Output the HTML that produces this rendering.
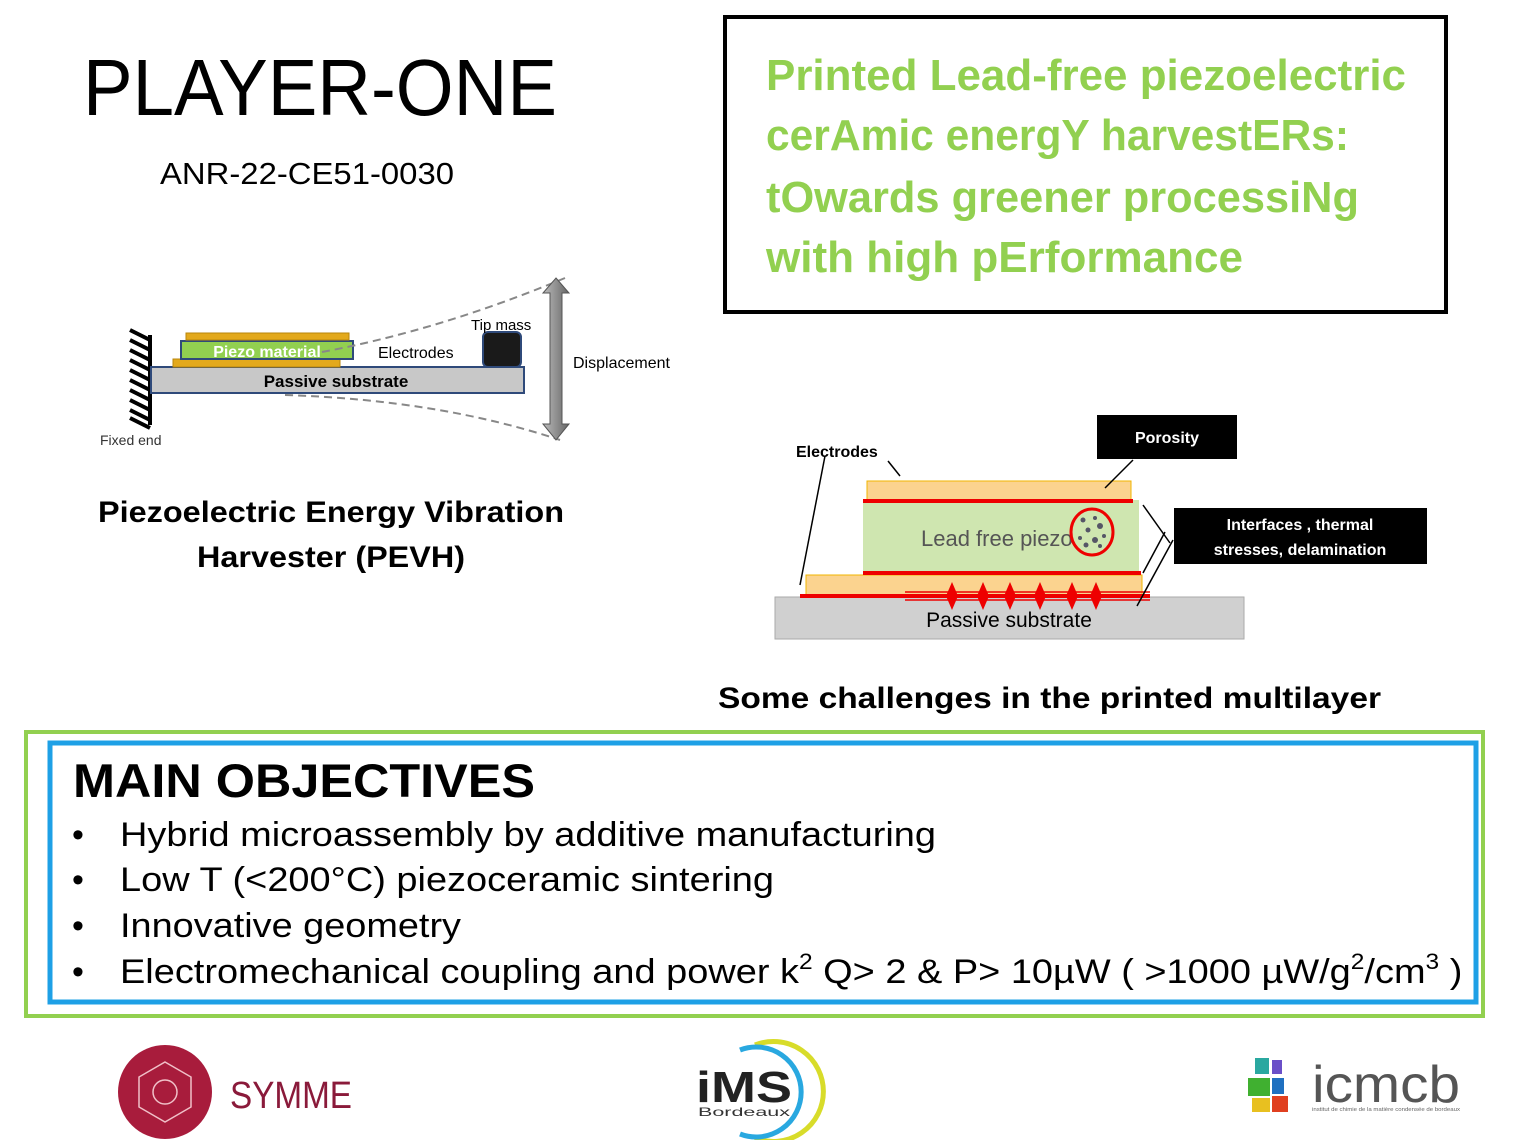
<!DOCTYPE html>
<html><head><meta charset="utf-8"><style>
html,body{margin:0;padding:0;background:#fff;}
svg{display:block;font-family:"Liberation Sans",sans-serif;}
</style></head><body>
<svg width="1520" height="1140" viewBox="0 0 1520 1140" xmlns="http://www.w3.org/2000/svg">
<text x="83" y="115" font-size="80" textLength="474" lengthAdjust="spacingAndGlyphs">PLAYER-ONE</text>
<text x="160" y="184" font-size="31" textLength="294" lengthAdjust="spacingAndGlyphs">ANR-22-CE51-0030</text>

<rect x="725" y="17" width="721" height="295" fill="none" stroke="#000" stroke-width="4"/>
<g font-size="44" font-weight="bold" fill="#92d050">
<text x="766" y="90" textLength="640" lengthAdjust="spacingAndGlyphs">Printed Lead-free piezoelectric</text>
<text x="766" y="150" textLength="583" lengthAdjust="spacingAndGlyphs">cerAmic energY harvestERs:</text>
<text x="766" y="212" textLength="593" lengthAdjust="spacingAndGlyphs">tOwards greener processiNg</text>
<text x="766" y="272" textLength="477" lengthAdjust="spacingAndGlyphs">with high pErformance</text>
</g>

<g stroke="#000" stroke-width="4">
<line x1="150" y1="335" x2="150" y2="425"/>
<line x1="150" y1="340" x2="130" y2="330"/><line x1="150" y1="350" x2="130" y2="340"/>
<line x1="150" y1="360" x2="130" y2="350"/><line x1="150" y1="370" x2="130" y2="360"/>
<line x1="150" y1="380" x2="130" y2="370"/><line x1="150" y1="390" x2="130" y2="380"/>
<line x1="150" y1="400" x2="130" y2="390"/><line x1="150" y1="410" x2="130" y2="400"/>
<line x1="150" y1="420" x2="130" y2="410"/><line x1="150" y1="428" x2="130" y2="418"/>
</g>
<text x="100" y="445" font-size="14" fill="#333">Fixed end</text>
<rect x="151" y="367" width="373" height="26" fill="#c8c8c8" stroke="#2f4a7a" stroke-width="2"/>
<text x="336" y="387" font-size="17" font-weight="bold" text-anchor="middle">Passive substrate</text>
<rect x="173" y="359" width="167" height="8" fill="#e3a91c" stroke="#b8860b" stroke-width="1"/>
<rect x="181" y="341" width="172" height="18" fill="#92d050" stroke="#2f4a7a" stroke-width="2"/>
<text x="267" y="357" font-size="16" font-weight="bold" fill="#fff" text-anchor="middle">Piezo material</text>
<rect x="186" y="333" width="163" height="7" fill="#e3a91c" stroke="#b8860b" stroke-width="1"/>
<text x="378" y="358" font-size="16">Electrodes</text>
<rect x="483" y="332" width="38" height="35" rx="5" fill="#1a1a1a" stroke="#2f4a7a" stroke-width="2"/>
<text x="471" y="330" font-size="15">Tip mass</text>
<path d="M322 352 Q440 330 565 278" fill="none" stroke="#888" stroke-width="2" stroke-dasharray="8,5"/>
<path d="M285 395 Q440 400 560 440" fill="none" stroke="#888" stroke-width="2" stroke-dasharray="8,5"/>
<defs><linearGradient id="ga" x1="0" x2="1"><stop offset="0" stop-color="#bbb"/><stop offset="1" stop-color="#666"/></linearGradient></defs>
<path d="M556 278 L569 293 L562 293 L562 424 L569 424 L556 440 L543 424 L550 424 L550 293 L543 293 Z" fill="url(#ga)" stroke="#555" stroke-width="1"/>
<text x="573" y="368" font-size="16">Displacement</text>

<text x="331" y="522" font-size="30" font-weight="bold" text-anchor="middle" textLength="466" lengthAdjust="spacingAndGlyphs">Piezoelectric Energy Vibration</text>
<text x="331" y="567" font-size="30" font-weight="bold" text-anchor="middle" textLength="268" lengthAdjust="spacingAndGlyphs">Harvester (PEVH)</text>

<rect x="775" y="597" width="469" height="42" fill="#d0d0d0" stroke="#aaa" stroke-width="1"/>
<text x="1009" y="627" font-size="21" text-anchor="middle">Passive substrate</text>
<rect x="806" y="575" width="336" height="22" fill="#fbd38f" stroke="#f0b400" stroke-width="1"/>
<rect x="863" y="500" width="276" height="75" fill="#cfe6b0"/>
<rect x="867" y="481" width="264" height="20" fill="#fbd38f" stroke="#f0b400" stroke-width="1"/>
<text x="921" y="546" font-size="22" fill="#555">Lead free piezo</text>
<g stroke="#e00" stroke-width="4" fill="none">
<line x1="863" y1="501" x2="1133" y2="501"/>
<line x1="863" y1="573" x2="1141" y2="573"/>
<line x1="800" y1="596" x2="1150" y2="596"/>
</g>
<line x1="905" y1="592" x2="1150" y2="592" stroke="#e00" stroke-width="1.5"/>
<line x1="905" y1="600" x2="1150" y2="600" stroke="#e00" stroke-width="1.5"/>
<g fill="#e00">
<path d="M952 582 l6 14 l-6 14 l-6 -14z"/><path d="M983 582 l6 14 l-6 14 l-6 -14z"/>
<path d="M1010 582 l6 14 l-6 14 l-6 -14z"/><path d="M1040 582 l6 14 l-6 14 l-6 -14z"/>
<path d="M1072 582 l6 14 l-6 14 l-6 -14z"/><path d="M1096 582 l6 14 l-6 14 l-6 -14z"/>
</g>
<ellipse cx="1092" cy="532" rx="21" ry="23" fill="none" stroke="#e00" stroke-width="3"/>
<g fill="#556">
<circle cx="1083" cy="520" r="2.5"/><circle cx="1095" cy="518" r="2"/><circle cx="1100" cy="526" r="3"/>
<circle cx="1088" cy="530" r="2.5"/><circle cx="1080" cy="538" r="2"/><circle cx="1095" cy="540" r="3"/>
<circle cx="1104" cy="536" r="2"/><circle cx="1086" cy="545" r="2.5"/><circle cx="1100" cy="546" r="2"/>
</g>
<text x="796" y="457" font-size="16" font-weight="bold">Electrodes</text>
<g stroke="#000" stroke-width="1.5">
<line x1="888" y1="461" x2="900" y2="476"/>
<line x1="825" y1="456" x2="800" y2="585"/>
<line x1="1133" y1="460" x2="1105" y2="488"/>
<line x1="1143" y1="505" x2="1170" y2="543"/>
<line x1="1143" y1="573" x2="1165" y2="532"/>
<line x1="1137" y1="606" x2="1173" y2="540"/>
</g>
<rect x="1097" y="415" width="140" height="44" fill="#000"/>
<text x="1167" y="443" font-size="16" font-weight="bold" fill="#fff" text-anchor="middle">Porosity</text>
<rect x="1174" y="508" width="253" height="56" fill="#000"/>
<text x="1300" y="530" font-size="16" font-weight="bold" fill="#fff" text-anchor="middle">Interfaces , thermal</text>
<text x="1300" y="555" font-size="16" font-weight="bold" fill="#fff" text-anchor="middle">stresses, delamination</text>

<text x="718" y="708" font-size="30" font-weight="bold" textLength="663" lengthAdjust="spacingAndGlyphs">Some challenges in the printed  multilayer</text>

<rect x="26" y="732" width="1457" height="284" fill="none" stroke="#92d050" stroke-width="4"/>
<rect x="50" y="743" width="1426" height="259" fill="none" stroke="#1ea0e6" stroke-width="5"/>
<text x="73" y="797" font-size="47" font-weight="bold" textLength="462" lengthAdjust="spacingAndGlyphs">MAIN OBJECTIVES</text>
<g font-size="34">
<text x="72" y="846">•</text><text x="120" y="846" textLength="816" lengthAdjust="spacingAndGlyphs">Hybrid microassembly by additive manufacturing</text>
<text x="72" y="891">•</text><text x="120" y="891" textLength="654" lengthAdjust="spacingAndGlyphs">Low T (&lt;200°C) piezoceramic sintering</text>
<text x="72" y="937">•</text><text x="120" y="937" textLength="341" lengthAdjust="spacingAndGlyphs">Innovative geometry</text>
<text x="72" y="983">•</text>
<g transform="translate(120,0) scale(1.116,1)">
<text x="0" y="983">Electromechanical coupling and power k<tspan font-size="22" dy="-14">2</tspan><tspan dy="14"> Q&gt; 2 &amp; P&gt; 10µW ( &gt;1000 µW/g</tspan><tspan font-size="22" dy="-14">2</tspan><tspan dy="14">/cm</tspan><tspan font-size="22" dy="-14">3</tspan><tspan dy="14"> )</tspan></text>
</g>
</g>

<circle cx="165" cy="1092" r="47" fill="#a81c3c"/>
<polygon points="165,1062 191,1077 191,1107 165,1122 139,1107 139,1077" fill="none" stroke="#f0c0c8" stroke-width="1.5"/>
<circle cx="165" cy="1092" r="12" fill="none" stroke="#f0c0c8" stroke-width="1.5"/>
<text x="230" y="1108" font-size="38" fill="#8a1a3a" textLength="122" lengthAdjust="spacingAndGlyphs">SYMME</text>
<path d="M755 1045 A50 50 0 1 1 755 1138" fill="none" stroke="#d8dc2a" stroke-width="5"/>
<path d="M740 1050 A45 45 0 1 1 740 1134" fill="none" stroke="#29a8e0" stroke-width="5"/>
<text x="696" y="1102" font-size="44" font-weight="bold" fill="#222" textLength="96" lengthAdjust="spacingAndGlyphs">iMS</text>
<text x="698" y="1116" font-size="12" fill="#333" textLength="92" lengthAdjust="spacingAndGlyphs">Bordeaux</text>
<rect x="1255" y="1058" width="14" height="16" fill="#2aa8a0"/><rect x="1272" y="1060" width="10" height="14" fill="#6a4fc8"/>
<rect x="1248" y="1078" width="22" height="18" fill="#40b030"/><rect x="1272" y="1078" width="12" height="16" fill="#2070c0"/>
<rect x="1252" y="1098" width="18" height="14" fill="#e8c020"/><rect x="1272" y="1096" width="16" height="16" fill="#e04020"/>
<text x="1312" y="1102" font-size="52" fill="#555" textLength="148" lengthAdjust="spacingAndGlyphs">icmcb</text>
<text x="1312" y="1111" font-size="5" fill="#666" textLength="148" lengthAdjust="spacingAndGlyphs">institut de chimie de la matière condensée de bordeaux</text>
</svg>
</body></html>
